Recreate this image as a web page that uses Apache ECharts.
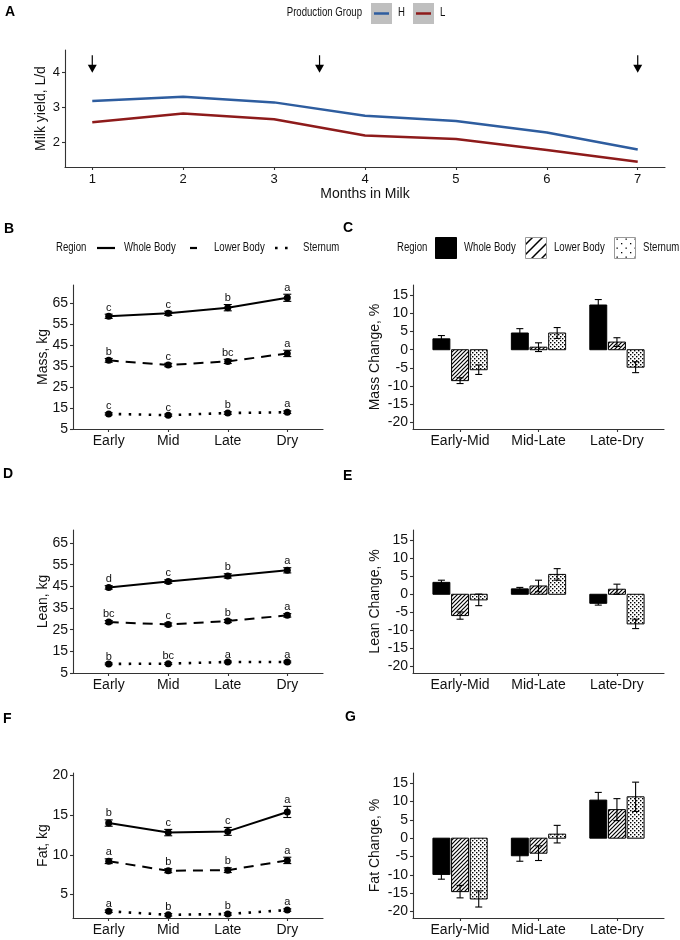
<!DOCTYPE html>
<html>
<head>
<meta charset="utf-8">
<script src="https://cdn.jsdelivr.net/npm/echarts@6/dist/echarts.min.js"></script>
<style>
  html, body { margin: 0; padding: 0; background: #fff; }
  #chart { width: 680px; height: 940px; }
</style>
</head>
<body>
<div id="chart"></div>
<script>
// ---- data ----
const months = [1, 2, 3, 4, 5, 6, 7];
const milkH = [3.19, 3.31, 3.15, 2.77, 2.62, 2.29, 1.80];
const milkL = [2.58, 2.83, 2.67, 2.20, 2.10, 1.79, 1.45];
const arrowMonths = [1, 3.5, 7];
const arrowFrom = 4.5;
const arrowTo = 4.0;

const stages = ['Early', 'Mid', 'Late', 'Dry'];
const changes = ['Early-Mid', 'Mid-Late', 'Late-Dry'];
const regions = ['Whole Body', 'Lower Body', 'Sternum'];

// rows: Whole Body, Lower Body, Sternum
const massMean = [[58.7, 60.1, 62.8, 67.5], [37.7, 35.5, 37.2, 41.0], [12.2, 11.6, 12.6, 13.0]];
const massSe = [[1.0, 1.0, 1.5, 1.7], [0.9, 0.8, 1.0, 1.5], [0.5, 0.5, 0.6, 0.6]];
const massLetters = [['c', 'c', 'b', 'a'], ['b', 'c', 'bc', 'a'], ['c', 'c', 'b', 'a']];

const leanMean = [[44.5, 47.2, 49.8, 52.4], [28.5, 27.4, 29.0, 31.6], [9.2, 9.3, 10.1, 10.1]];
const leanSe = [[0.8, 0.8, 1.0, 1.2], [0.7, 0.7, 0.7, 0.8], [0.4, 0.4, 0.4, 0.4]];
const leanLetters = [['d', 'c', 'b', 'a'], ['bc', 'c', 'b', 'a'], ['b', 'bc', 'a', 'a']];

const fatMean = [[14.0, 12.8, 12.95, 15.4], [9.2, 8.0, 8.07, 9.3], [2.9, 2.45, 2.55, 3.05]];
const fatSe = [[0.4, 0.4, 0.5, 0.7], [0.3, 0.25, 0.3, 0.4], [0.15, 0.15, 0.15, 0.15]];
const fatLetters = [['b', 'c', 'c', 'a'], ['a', 'b', 'b', 'a'], ['a', 'b', 'b', 'a']];

const massChgMean = [[3.0, 4.6, 12.3], [-8.5, 0.7, 2.1], [-5.5, 4.6, -4.8]];
const massChgSe = [[0.9, 1.2, 1.5], [0.8, 1.2, 1.2], [1.3, 1.5, 1.5]];
const leanChgMean = [[3.3, 1.5, -2.5], [-5.9, 2.3, 1.4], [-1.55, 5.5, -8.2]];
const leanChgSe = [[0.6, 0.4, 0.5], [1.0, 1.6, 1.4], [1.6, 1.6, 1.3]];
const fatChgMean = [[-9.9, -4.8, 10.4], [-14.6, -4.1, 7.8], [-16.6, 1.1, 11.3]];
const fatChgSe = [[1.3, 1.5, 2.1], [1.7, 2.0, 3.0], [2.2, 2.4, 4.0]];

const kgTicks = [5, 15, 25, 35, 45, 55, 65];
const fatTicks = [5, 10, 15, 20];
const pctTicks = [-20, -15, -10, -5, 0, 5, 10, 15];
const milkTicks = [2, 3, 4];

// ---- styling ----
const FONT = "'Liberation Sans', Arial, sans-serif";
const AXIS = '#333';
const colH = '#2E5D9F';
const colL = '#8E1B1B';
const lineTypes = ['solid', [10, 7], [2.5, 7.5]];

function makeHatch(size, lw) {
  const c = document.createElement('canvas');
  c.width = size; c.height = size;
  const g = c.getContext('2d');
  g.fillStyle = '#fff'; g.fillRect(0, 0, size, size);
  g.strokeStyle = '#000'; g.lineWidth = lw;
  g.beginPath();
  g.moveTo(-1, size + 1); g.lineTo(size + 1, -1);
  g.moveTo(-2, 2); g.lineTo(2, -2);
  g.moveTo(size - 2, size + 2); g.lineTo(size + 2, size - 2);
  g.stroke();
  return c;
}
function makeDots(size, d) {
  const c = document.createElement('canvas');
  c.width = size; c.height = size;
  const g = c.getContext('2d');
  g.fillStyle = '#fff'; g.fillRect(0, 0, size, size);
  g.fillStyle = '#000';
  g.fillRect(0, 0, d, d);
  g.fillRect(size / 2, size / 2, d, d);
  return c;
}
const fills = ['#000', {image: makeHatch(4, 1.2), repeat: 'repeat'}, {image: makeDots(4, 1.4), repeat: 'repeat'}];

const chart = echarts.init(document.getElementById('chart'));

const grids = [
  {left: 65, top: 50, width: 600, height: 117},
  {left: 73, top: 285, width: 250, height: 144},
  {left: 413, top: 285, width: 251, height: 144},
  {left: 73, top: 530, width: 250, height: 143},
  {left: 413, top: 530, width: 251, height: 143},
  {left: 73, top: 773, width: 250, height: 145},
  {left: 413, top: 773, width: 251, height: 145}
].map(g => Object.assign({outerBoundsMode: 'none', containLabel: false}, g));

function valueAxis(gridIndex, min, max, ticks, fmt, fontSize, margin) {
  return {
    type: 'value', gridIndex, min, max,
    axisLine: {show: true, onZero: false, lineStyle: {color: AXIS, width: 1.1}},
    axisTick: {show: true, length: 3, customValues: ticks, lineStyle: {color: AXIS, width: 1.1}},
    axisLabel: {customValues: ticks, formatter: fmt, fontSize, color: '#111', fontFamily: FONT, margin},
    splitLine: {show: false}
  };
}
const stageFmt = v => stages[Math.round(v) - 1];
const changeFmt = v => changes[Math.round(v) - 1];
const num = v => String(v);

function yName(axis, name, gap) {
  return Object.assign(axis, {
    name, nameLocation: 'middle', nameRotate: 90, nameGap: gap, nameMoveOverlap: false,
    nameTextStyle: {fontSize: 14, color: '#111', fontFamily: FONT}
  });
}

const xAxes = [
  Object.assign(valueAxis(0, 0.7, 7.3, months, num, 13, 6), {
    name: 'Months in Milk', nameLocation: 'middle', nameGap: 19,
    nameTextStyle: {fontSize: 14, color: '#111', fontFamily: FONT}
  }),
  valueAxis(1, 0.4, 4.6, [1, 2, 3, 4], stageFmt, 14, 5),
  valueAxis(2, 0.4, 3.6, [1, 2, 3], changeFmt, 14, 5),
  valueAxis(3, 0.4, 4.6, [1, 2, 3, 4], stageFmt, 14, 5),
  valueAxis(4, 0.4, 3.6, [1, 2, 3], changeFmt, 14, 5),
  valueAxis(5, 0.4, 4.6, [1, 2, 3, 4], stageFmt, 14, 5),
  valueAxis(6, 0.4, 3.6, [1, 2, 3], changeFmt, 14, 5)
];
const yAxes = [
  yName(valueAxis(0, 1.3, 4.65, milkTicks, num, 13, 5), 'Milk yield, L/d', 17),
  yName(valueAxis(1, 5, 73.6, kgTicks, num, 14, 5), 'Mass, kg', 23),
  yName(valueAxis(2, -21.8, 17.8, pctTicks, num, 14, 5), 'Mass Change, %', 31),
  yName(valueAxis(3, 5, 71, kgTicks, num, 14, 5), 'Lean, kg', 23),
  yName(valueAxis(4, -21.8, 17.8, pctTicks, num, 14, 5), 'Lean Change, %', 31),
  yName(valueAxis(5, 2.05, 20.3, fatTicks, num, 14, 5), 'Fat, kg', 23),
  yName(valueAxis(6, -21.8, 17.8, pctTicks, num, 14, 5), 'Fat Change, %', 31)
];

function errorBar(cx, top, bot, cap) {
  const st = {stroke: '#000', lineWidth: 1.1};
  return [
    {type: 'line', shape: {x1: cx, y1: top, x2: cx, y2: bot}, style: st},
    {type: 'line', shape: {x1: cx - cap, y1: top, x2: cx + cap, y2: top}, style: st},
    {type: 'line', shape: {x1: cx - cap, y1: bot, x2: cx + cap, y2: bot}, style: st}
  ];
}

const series = [];

// Panel A
series.push({
  type: 'line', xAxisIndex: 0, yAxisIndex: 0, name: 'H',
  data: months.map((m, i) => [m, milkH[i]]),
  symbol: 'none', lineStyle: {color: colH, width: 2.5}, animation: false, silent: true
});
series.push({
  type: 'line', xAxisIndex: 0, yAxisIndex: 0, name: 'L',
  data: months.map((m, i) => [m, milkL[i]]),
  symbol: 'none', lineStyle: {color: colL, width: 2.5}, animation: false, silent: true
});
series.push({
  type: 'custom', xAxisIndex: 0, yAxisIndex: 0, animation: false, silent: true,
  data: arrowMonths.map(m => [m, arrowFrom, arrowTo]),
  renderItem(params, api) {
    const a = api.coord([api.value(0), api.value(1)]);
    const b = api.coord([api.value(0), api.value(2)]);
    return {type: 'group', children: [
      {type: 'line', shape: {x1: a[0], y1: a[1], x2: b[0], y2: b[1] - 6}, style: {stroke: '#000', lineWidth: 1.2}},
      {type: 'polygon', shape: {points: [[b[0] - 4.5, b[1] - 8], [b[0] + 4.5, b[1] - 8], [b[0], b[1]]]}, style: {fill: '#000'}}
    ]};
  }
});

function linePanel(axis, means, ses, letters) {
  means.forEach((row, r) => {
    series.push({
      type: 'custom', xAxisIndex: axis, yAxisIndex: axis, animation: false, silent: true,
      data: row.map((v, i) => [i + 1, v, ses[r][i]]),
      renderItem(params, api) {
        const x = api.value(0), m = api.value(1), s = api.value(2);
        const t = api.coord([x, m + s]), b = api.coord([x, m - s]);
        return {type: 'group', children: errorBar(t[0], t[1], b[1], 4)};
      }
    });
    series.push({
      type: 'line', xAxisIndex: axis, yAxisIndex: axis, name: regions[r],
      data: row.map((v, i) => [i + 1, v]),
      symbol: 'circle', symbolSize: 7, itemStyle: {color: '#000'},
      lineStyle: {color: '#000', width: r === 2 ? 2.6 : 2, type: lineTypes[r], cap: 'butt'},
      animation: false, silent: true
    });
    series.push({
      type: 'custom', xAxisIndex: axis, yAxisIndex: axis, animation: false, silent: true,
      data: row.map((v, i) => [i + 1, v + ses[r][i]]),
      renderItem(params, api) {
        const p = api.coord([api.value(0), api.value(1)]);
        const txt = letters[r][params.dataIndex];
        return {type: 'text', x: p[0], y: p[1] - 1, style: {
          text: txt, fill: '#111', font: '11px ' + FONT,
          align: 'center', verticalAlign: 'bottom', textAlign: 'center', textVerticalAlign: 'bottom'
        }};
      }
    });
  });
}

function barPanel(axis, means, ses) {
  const step = 0.238, half = 0.108;
  means.forEach((row, r) => {
    series.push({
      type: 'custom', xAxisIndex: axis, yAxisIndex: axis, name: regions[r],
      animation: false, silent: true,
      data: row.map((v, i) => [i + 1, v, ses[r][i]]),
      renderItem(params, api) {
        const cx = api.value(0) + (r - 1) * step, m = api.value(1), s = api.value(2);
        const p0 = api.coord([cx - half, 0]);
        const p1 = api.coord([cx + half, m]);
        const t = api.coord([cx, m + s]), b = api.coord([cx, m - s]);
        return {type: 'group', children: [
          {type: 'rect', shape: {
            x: Math.min(p0[0], p1[0]), y: Math.min(p0[1], p1[1]),
            width: Math.abs(p1[0] - p0[0]), height: Math.abs(p1[1] - p0[1])
          }, style: {fill: fills[r], stroke: '#000', lineWidth: 1}}
        ].concat(errorBar(t[0], t[1], b[1], 3.5))};
      }
    });
  });
}

linePanel(1, massMean, massSe, massLetters);
barPanel(2, massChgMean, massChgSe);
linePanel(3, leanMean, leanSe, leanLetters);
barPanel(4, leanChgMean, leanChgSe);
linePanel(5, fatMean, fatSe, fatLetters);
barPanel(6, fatChgMean, fatChgSe);

// ---- panel letters and legends ----
const gfx = [];
[['A', 5, 5], ['B', 4, 222], ['C', 343, 221], ['D', 3, 467], ['E', 343, 469], ['F', 3, 712], ['G', 345, 710]]
  .forEach(([t, x, y]) => gfx.push({type: 'text', left: x, top: y,
    style: {text: t, font: 'bold 14px ' + FONT, fill: '#000'}}));

// legend text: condensed look, like the narrow font in the source
function legText(t, x, y, align) {
  gfx.push({type: 'text', x, y, scaleX: 0.8, style: {text: t, font: '12px ' + FONT, fill: '#111',
    align: align || 'left', verticalAlign: 'middle', textAlign: align || 'left', textVerticalAlign: 'middle'}});
}
// legend A
legText('Production Group', 362, 13, 'right');
[[371, colH, 'H'], [413, colL, 'L']].forEach(([x, c, t]) => {
  gfx.push({type: 'rect', shape: {x, y: 3, width: 21, height: 21}, style: {fill: '#BFBFBF'}});
  gfx.push({type: 'line', shape: {x1: x + 3, y1: 13.5, x2: x + 18, y2: 13.5}, style: {stroke: c, lineWidth: 2.5}});
  legText(t, x + 27, 13);
});
// legend B (lines)
const ly = 248;
legText('Region', 56, ly);
gfx.push({type: 'line', shape: {x1: 97, y1: ly, x2: 115, y2: ly}, style: {stroke: '#000', lineWidth: 2.2}});
legText('Whole Body', 124, ly);
gfx.push({type: 'line', shape: {x1: 190, y1: ly, x2: 207, y2: ly}, style: {stroke: '#000', lineWidth: 2.2, lineDash: [7, 20]}});
legText('Lower Body', 214, ly);
gfx.push({type: 'line', shape: {x1: 275, y1: ly, x2: 290, y2: ly}, style: {stroke: '#000', lineWidth: 2.6, lineDash: [2.6, 7.4]}});
legText('Sternum', 303, ly);
// legend C (boxes)
legText('Region', 397, ly);
const keyFills = ['#000', {image: makeHatch(10, 1.5), repeat: 'repeat'}, {image: makeDots(9, 1.3), repeat: 'repeat'}];
[[435, 'Whole Body'], [525, 'Lower Body'], [614, 'Sternum']].forEach(([x, t], i) => {
  gfx.push({type: 'rect', shape: {x: x + 0.5, y: 237.5, width: 21, height: 21},
    style: {fill: keyFills[i], stroke: i === 0 ? '#000' : '#999', lineWidth: 1}});
  legText(t, x + 29, ly);
});

chart.setOption({
  backgroundColor: '#fff',
  animation: false,
  grid: grids,
  xAxis: xAxes,
  yAxis: yAxes,
  series,
  graphic: {elements: gfx}
});
</script>
</body>
</html>
